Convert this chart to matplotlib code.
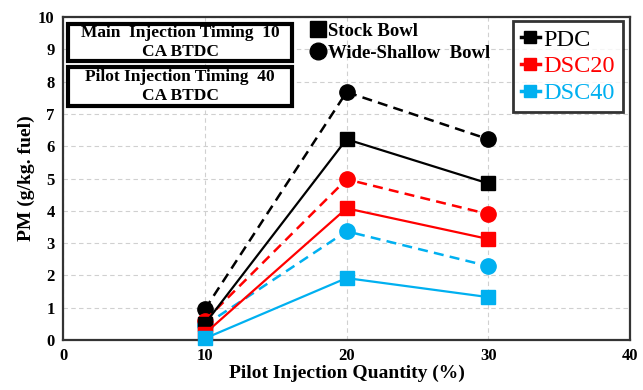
import matplotlib.pyplot as plt
from matplotlib.lines import Line2D
from matplotlib.patches import Rectangle

# Data
pilot_qty = [10, 20, 30]
stock_pdc = [0.50, 6.22, 4.85]
stock_dsc20 = [0.20, 4.08, 3.13]
stock_dsc40 = [0.05, 1.92, 1.33]
wide_pdc = [0.95, 7.68, 6.22]
wide_dsc20 = [0.60, 4.98, 3.90]
wide_dsc40 = [0.46, 3.37, 2.29]

series_names = ["PDC", "DSC20", "DSC40"]
colors = ["black", "#ff0000", "#00b0f0"]

plt.rcParams["font.family"] = ["Liberation Serif", "DejaVu Serif"]
plt.rcParams["font.weight"] = "bold"

fig = plt.figure(figsize=(6.43, 3.9), dpi=100)
ax = fig.add_axes([0.098, 0.128, 0.882, 0.828])

stock = [stock_pdc, stock_dsc20, stock_dsc40]
wide = [wide_pdc, wide_dsc20, wide_dsc40]

# wide-shallow bowl: dashed lines with circles
for vals, c in zip(wide, colors):
    ax.plot(pilot_qty, vals, color=c, linestyle=(0, (4, 2.5)), linewidth=1.8,
            marker="o", markersize=11, zorder=3, clip_on=False)
# stock bowl: solid lines with squares
for vals, c in zip(stock, colors):
    ax.plot(pilot_qty, vals, color=c, linestyle="-", linewidth=1.6,
            marker="s", markersize=10, zorder=4, clip_on=False)

ax.set_xlim(0, 40)
ax.set_ylim(0, 10)
ax.set_xticks([0, 10, 20, 30, 40])
ax.set_yticks(range(0, 11))
ax.tick_params(length=0, labelsize=12, pad=6)
for lab in ax.get_xticklabels() + ax.get_yticklabels():
    lab.set_fontweight("bold")
ax.grid(True, color="#d0d0d0", linestyle=(0, (4, 3)), linewidth=0.8)
for sp in ax.spines.values():
    sp.set_linewidth(1.6)
    sp.set_color("#333333")

ax.set_xlabel("Pilot Injection Quantity (%)", fontsize=14, fontweight="bold", labelpad=0)
ax.set_ylabel("PM (g/kg. fuel)", fontsize=14, fontweight="bold", labelpad=2)

# text boxes
for (y0, y1), txt in [((0.864, 0.978), "Main  Injection Timing  10\nCA BTDC"),
                      ((0.724, 0.845), "Pilot Injection Timing  40\nCA BTDC")]:
    ax.add_patch(Rectangle((0.009, y0), 0.395, y1 - y0, transform=ax.transAxes,
                           facecolor="white", edgecolor="black", linewidth=3, zorder=6))
    ax.text(0.2065, (y0 + y1) / 2, txt, transform=ax.transAxes, ha="center", va="center",
            fontsize=12.5, fontweight="bold", linespacing=1.25, zorder=7)

# bowl legend
bowl_handles = [Line2D([], [], color="black", marker="s", linestyle="none", markersize=11),
                Line2D([], [], color="black", marker="o", linestyle="none", markersize=12)]
leg1 = ax.legend(bowl_handles, ["Stock Bowl", "Wide-Shallow  Bowl"], loc="upper left",
                 bbox_to_anchor=(0.405, 1.035), frameon=False, handlelength=0.9,
                 handletextpad=0.1, labelspacing=0.25, prop={"size": 13.5, "weight": "bold"})
ax.add_artist(leg1)

# series legend
ser_handles = [Line2D([], [], color=c, marker="s", linestyle="-", linewidth=2.5, markersize=9)
               for c in colors]
leg2 = ax.legend(ser_handles, series_names, loc="upper right", bbox_to_anchor=(1.008, 1.025),
                 frameon=True, fancybox=False, handlelength=0.8, handletextpad=0.15,
                 labelspacing=0.2, borderpad=0.3, prop={"size": 17.5})
leg2.get_frame().set_edgecolor("black")
leg2.get_frame().set_linewidth(2.0)
for t, c in zip(leg2.get_texts(), colors):
    t.set_color(c)
    t.set_fontweight("normal")

fig.savefig("out.png", dpi=100)
